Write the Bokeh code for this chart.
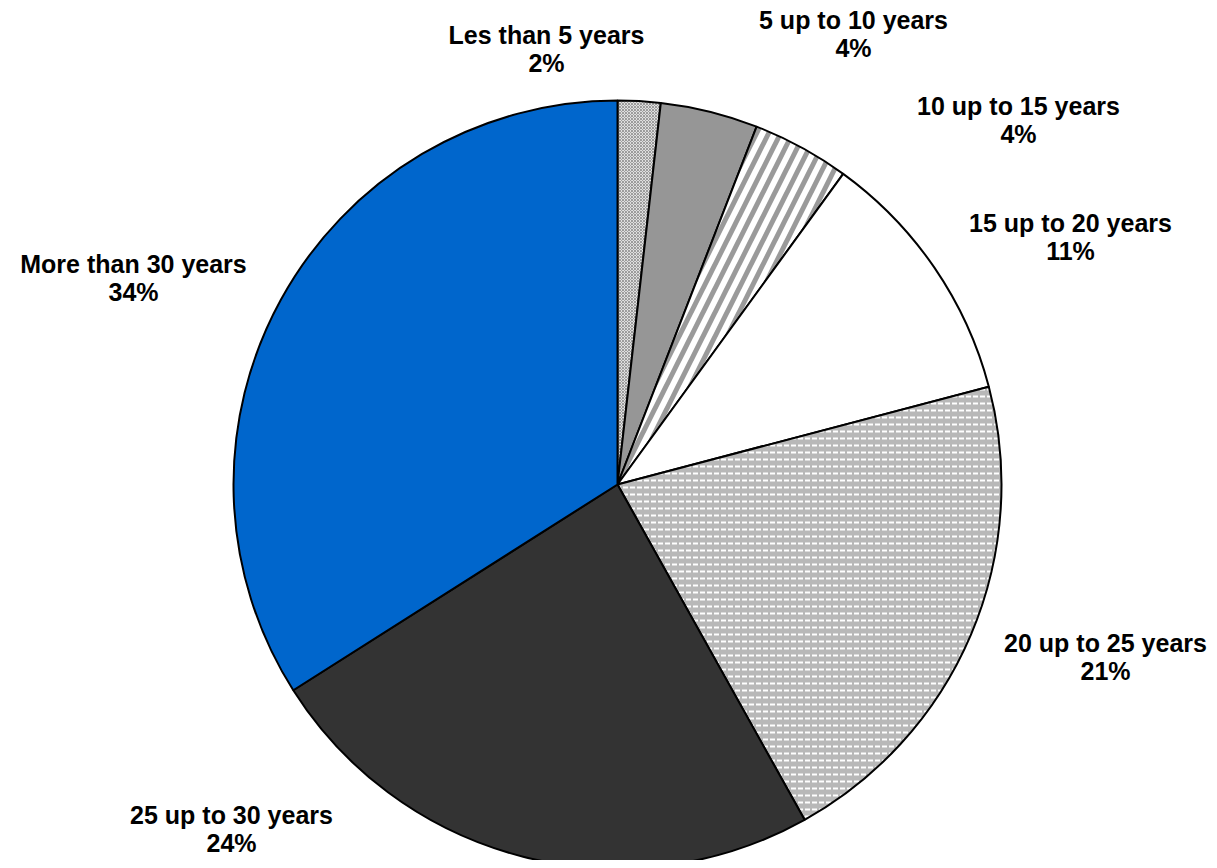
import numpy as np
from bokeh.plotting import figure
from bokeh.models import Range1d, ColumnDataSource
from bokeh.core.properties import value
from bokeh.embed import file_html
from bokeh.resources import INLINE

# ---- data ----
categories = ["Les than 5 years", "5 up to 10 years", "10 up to 15 years",
              "15 up to 20 years", "20 up to 25 years", "25 up to 30 years",
              "More than 30 years"]
shares = [1.8, 4.1, 4.1, 10.9, 21.0, 24.1, 34.0]
pct_labels = ["2%", "4%", "4%", "11%", "21%", "24%", "34%"]

# ---- styles ----
fills = ["#ffffff", "#969696", "#ffffff", "#ffffff", "#b8b8b8", "#333333", "#0066cc"]
hatches = ["diagonal_cross", " ", "right_diagonal_line", " ", "horizontal_dash", " ", " "]
hatch_colors = ["#9a9a9a", "#000000", "#9a9a9a", "#000000", "#ffffff", "#000000", "#000000"]
hatch_scales = [3, 12, 24, 12, 7, 12, 12]
hatch_weights = [1.2, 1, 5, 1, 2, 1, 1]

# label anchor positions (layout, in pixel space of the picture)
label_x = [546, 853, 1018, 1070, 1105, 231, 133]
label_y = [48, 33, 119, 236, 656, 828, 277]

W, H = 1209, 860
TOP = 868
cx, cy_img, R = 617, 484, 384

p = figure(width=W, height=H, output_backend="svg", toolbar_location=None,
           x_range=Range1d(0, W), y_range=Range1d(TOP - H, TOP),
           min_border=0, outline_line_color=None)
p.axis.visible = False
p.grid.visible = False
p.background_fill_color = "white"

vals = np.array(shares, dtype=float)
cum = np.cumsum(vals) / vals.sum()
prev = np.concatenate([[0.0], cum[:-1]])
start = np.pi / 2 - 2 * np.pi * prev
end = np.pi / 2 - 2 * np.pi * cum

src = ColumnDataSource(dict(start=start, end=end, fill=fills, hatch=hatches,
                            hcolor=hatch_colors, hscale=hatch_scales, hweight=hatch_weights))
p.wedge(x=cx, y=TOP - cy_img, radius=R, start_angle="start", end_angle="end",
        direction="clock", source=src, fill_color="fill", line_color="black",
        line_width=2, hatch_pattern="hatch", hatch_color="hcolor",
        hatch_scale="hscale", hatch_weight="hweight")

texts = [f"{c}\n{l}" for c, l in zip(categories, pct_labels)]
tsrc = ColumnDataSource(dict(x=label_x, y=[TOP - v for v in label_y], t=texts))
p.text(x="x", y="y", text="t", source=tsrc, text_align="center",
       text_baseline="middle", text_font=value("Liberation Sans"),
       text_font_style="bold", text_font_size="25px", text_color="black",
       text_line_height=1.0)

open("out.html", "w").write(file_html(p, INLINE))
